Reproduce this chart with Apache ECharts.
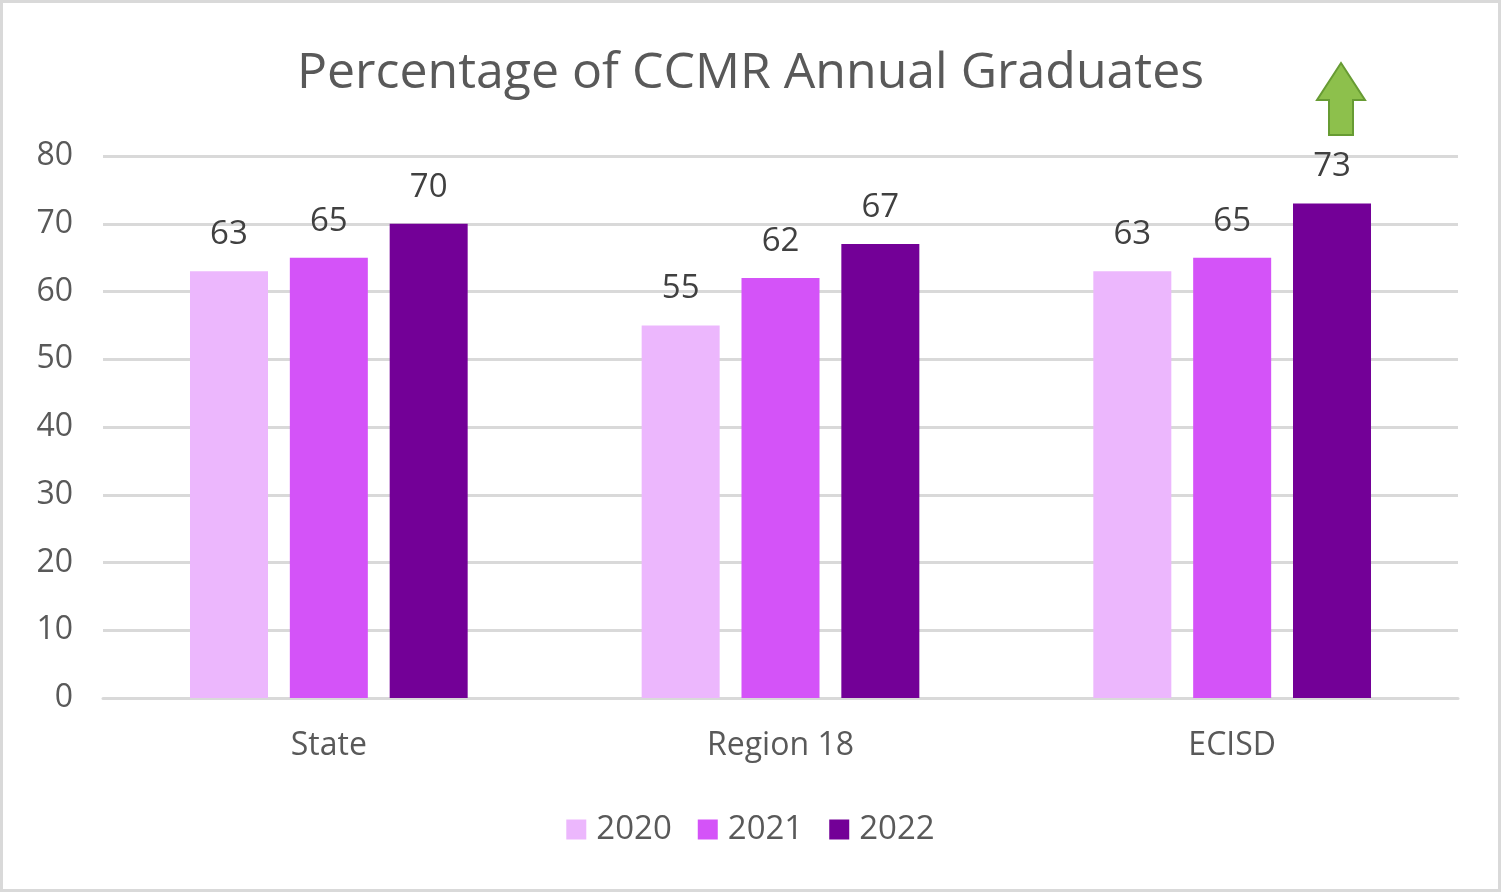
<!DOCTYPE html>
<html>
<head>
<meta charset="utf-8">
<script src="https://cdn.jsdelivr.net/npm/echarts@6/dist/echarts.min.js"></script>
<style>
  html, body { margin: 0; padding: 0; background: #fff; }
  #chart { width: 1501px; height: 892px; box-sizing: border-box; border: 3px solid #d9d9d9; }
</style>
</head>
<body>
<div id="chart"></div>
<script>
var categories = ['State', 'Region 18', 'ECISD'];
var years = ['2020', '2021', '2022'];
var values2020 = [63, 55, 63];
var values2021 = [65, 62, 65];
var values2022 = [70, 67, 73];
var colors = ['#ecb7fd', '#d453f8', '#730097'];

var chart = echarts.init(document.getElementById('chart'));
var font = 'Open Sans';

function bar(name, data, color) {
  return {
    name: name,
    type: 'bar',
    data: data,
    barWidth: 78,
    barGap: '28%',
    itemStyle: { color: color },
    label: {
      show: true,
      position: 'top',
      distance: 20,
      color: '#404040',
      fontSize: 33,
      fontFamily: font
    }
  };
}

chart.setOption({
  backgroundColor: '#fff',
  animation: false,
  title: {
    text: 'Percentage of CCMR Annual Graduates',
    left: 'center',
    top: 41,
    textStyle: { color: '#595959', fontSize: 50, fontWeight: 'normal', fontFamily: font }
  },
  legend: {
    data: years,
    bottom: 38,
    left: 'center',
    itemWidth: 20,
    itemHeight: 20,
    itemGap: 26,
    icon: 'rect',
    textStyle: { color: '#595959', fontSize: 33, fontFamily: font, padding: [0, 0, 0, 5] }
  },
  grid: { left: 100, right: 40, top: 153, bottom: 191, containLabel: false },
  xAxis: {
    type: 'category',
    data: categories,
    axisLine: { lineStyle: { color: '#d9d9d9', width: 3 } },
    axisTick: { show: false },
    axisLabel: { color: '#595959', fontSize: 32, fontFamily: font, margin: 32 }
  },
  yAxis: {
    type: 'value',
    min: 0,
    max: 80,
    interval: 10,
    axisLine: { show: false },
    axisTick: { show: false },
    splitLine: { lineStyle: { color: '#d9d9d9', width: 3 } },
    axisLabel: { color: '#595959', fontSize: 32, fontFamily: font, margin: 30 }
  },
  graphic: [{
    type: 'polygon',
    shape: {
      points: [[1338, 60], [1362, 97], [1350, 97], [1350, 132], [1326, 132], [1326, 97], [1314, 97]]
    },
    style: { fill: '#8dc04c', stroke: '#679b33', lineWidth: 2 }
  }],
  series: [
    bar(years[0], values2020, colors[0]),
    bar(years[1], values2021, colors[1]),
    bar(years[2], values2022, colors[2])
  ]
});
</script>
</body>
</html>
